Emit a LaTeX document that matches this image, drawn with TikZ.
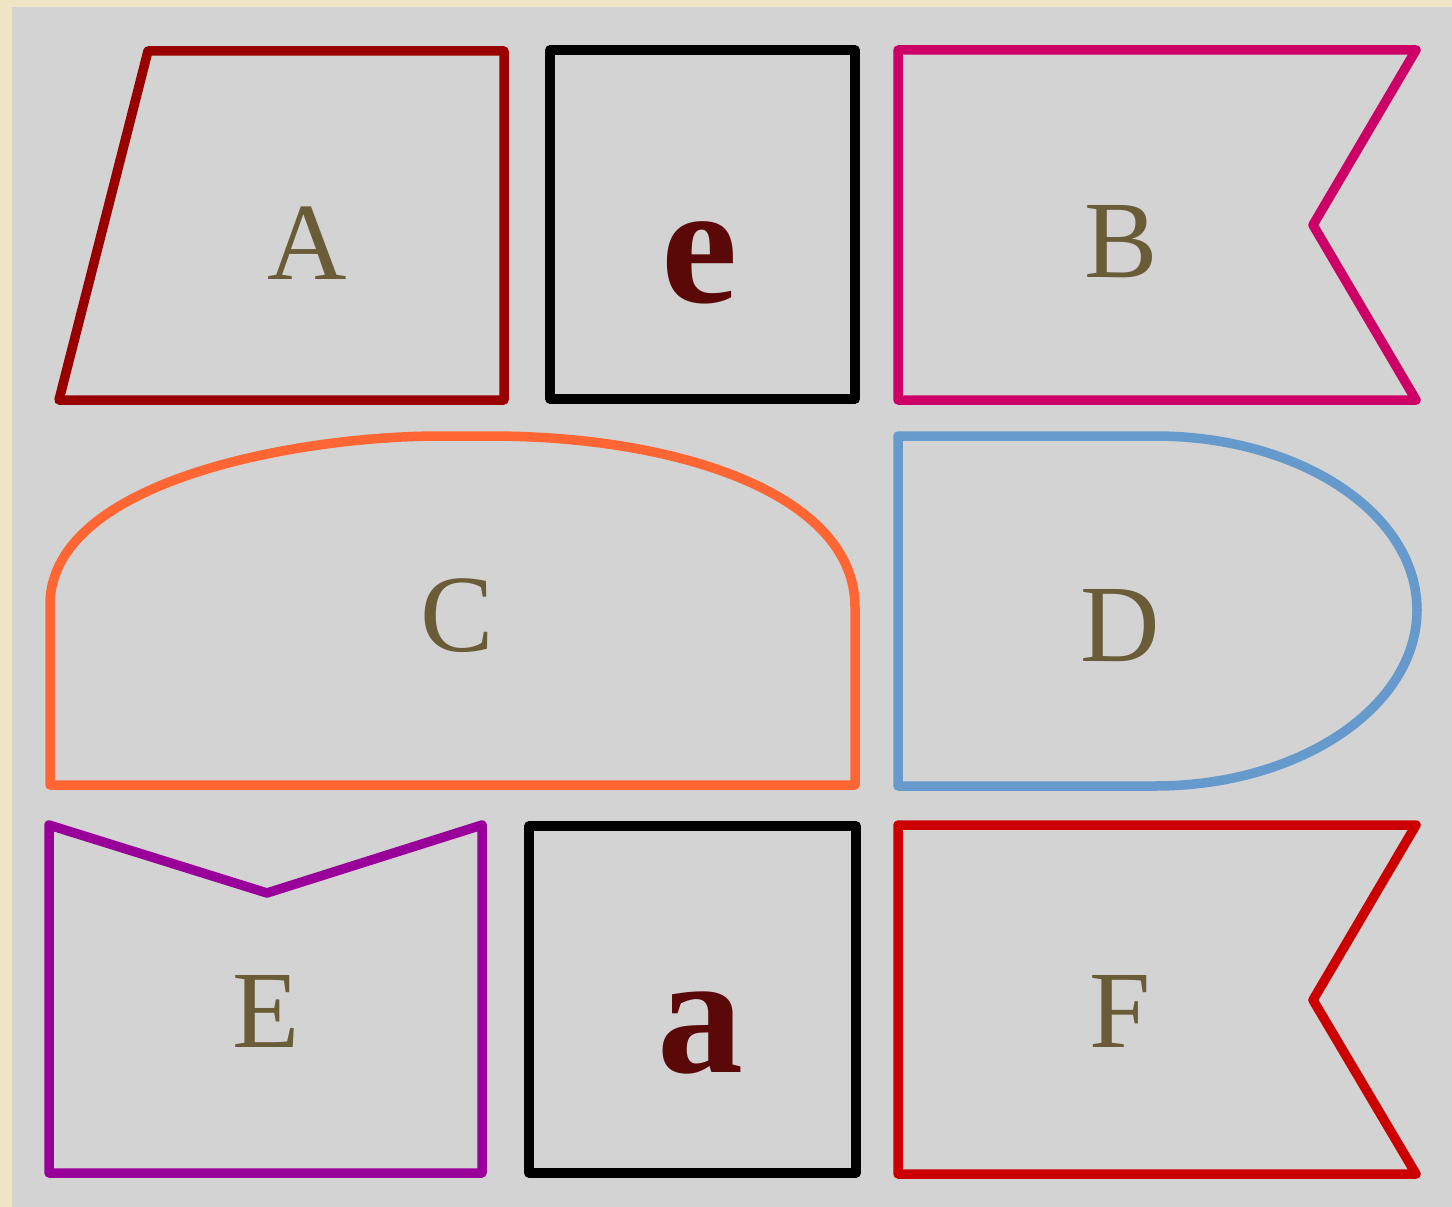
\documentclass[tikz,border=0pt]{standalone}
\usepackage{fontspec}
\setmainfont{Liberation Serif}
\definecolor{beige}{HTML}{F0E5C4}
\definecolor{panel}{HTML}{D3D3D3}
\definecolor{lbl}{HTML}{6B5C38}
\definecolor{dark}{HTML}{5A0808}
\definecolor{cA}{HTML}{990000}
\definecolor{cB}{HTML}{CC0066}
\definecolor{cC}{HTML}{FF6633}
\definecolor{cD}{HTML}{6699CC}
\definecolor{cE}{HTML}{990099}
\definecolor{cF}{HTML}{CC0000}
\begin{document}
\begin{tikzpicture}[x=1pt,y=-1pt,
  outline/.style={line width=9.5pt,line join=round,line cap=round},
  letter/.style={text=lbl,font=\fontsize{110}{114}\selectfont,anchor=base,inner sep=0pt},
  bigletter/.style={text=dark,font=\bfseries\fontsize{172}{176}\selectfont,anchor=base,inner sep=0pt}]
\useasboundingbox (0,0) rectangle (1452,1207);
\fill[beige] (0,0) rectangle (1452,1207);
\fill[panel] (12,7) rectangle (1452,1207);
% A
\draw[outline,cA] (148,51) -- (504,51) -- (504,400) -- (59,400) -- cycle;
\node[letter] (lA) at (307,279) {A};
% e box
\draw[outline,black] (550,50) rectangle (855,399);
\node[bigletter] (le) at (700,302) {e};
% B
\draw[outline,cB] (898,50) -- (1416,50) -- (1313,225) -- (1416,400) -- (898,400) -- cycle;
\node[letter] (lB) at (1121,277) {B};
% C
\draw[outline,cC] (50,785) -- (50,605) .. controls (50,480) and (300,436) .. (440,436)
  -- (490,436) .. controls (680,436) and (855,495) .. (855,607) -- (855,785) -- cycle;
\node[letter] (lC) at (457,651) {C};
% D
\draw[outline,cD] (898,436) -- (1155,436) .. controls (1299.7,436) and (1417,513.3) .. (1417,610)
  .. controls (1417,706.7) and (1299.7,786) .. (1155,786) -- (898,786) -- cycle;
\node[letter] (lD) at (1120,661) {D};
% E
\draw[outline,cE] (49,825) -- (267,893) -- (482,825) -- (482,1173) -- (49,1173) -- cycle;
\node[letter] (lE) at (266,1047) {E};
% a box
\draw[outline,black] (529,826) rectangle (856,1173);
\node[bigletter] (la) at (700,1072) {a};
% F
\draw[outline,cF] (898,825) -- (1416,825) -- (1313,1000) -- (1416,1174) -- (898,1174) -- cycle;
\node[letter] (lF) at (1120,1047) {F};
\end{tikzpicture}
\end{document}
